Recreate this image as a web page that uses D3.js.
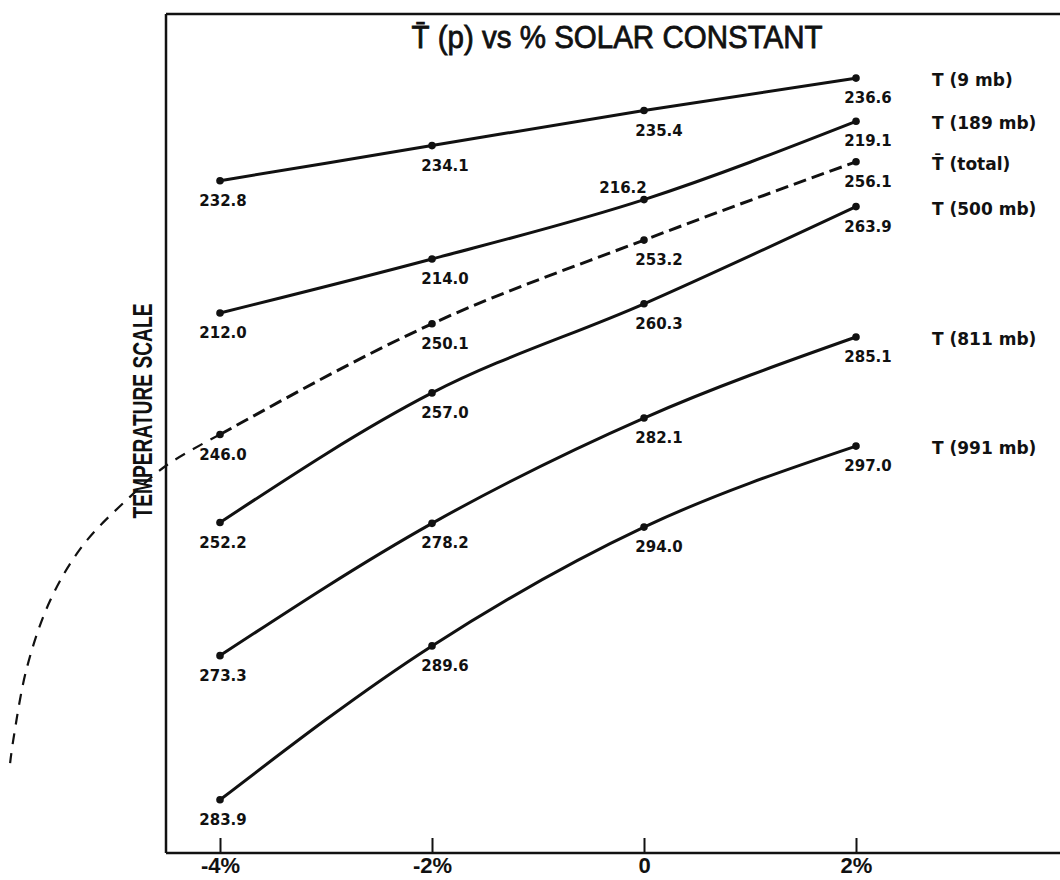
<!DOCTYPE html>
<html>
<head>
<meta charset="utf-8">
<script src="https://cdn.jsdelivr.net/npm/d3@7/dist/d3.min.js"></script>
<style>
  html, body { margin: 0; padding: 0; background: #fff; }
  svg { display: block; }
</style>
</head>
<body>
<svg id="chart" width="1060" height="880"></svg>
<script>
// ---------------- data ----------------
const solarPct = [-4, -2, 0, 2];
const tickLabels = ["-4%", "-2%", "0", "2%"];
const seriesNames = ["T (9 mb)", "T (189 mb)", "T\u0304 (total)", "T (500 mb)", "T (811 mb)", "T (991 mb)"];
const t9    = [232.8, 234.1, 235.4, 236.6];
const t189  = [212.0, 214.0, 216.2, 219.1];
const tTot  = [246.0, 250.1, 253.2, 256.1];
const t500  = [252.2, 257.0, 260.3, 263.9];
const t811  = [273.3, 278.2, 282.1, 285.1];
const t991  = [283.9, 289.6, 294.0, 297.0];
// temperature at the bottom of the (relative) temperature scale for each curve
const scaleOrigin = [207.9, 192.0, 230.5, 239.96, 265.99, 281.93];
// hand-drawn extrapolation of the total curve
const extPct  = [-4.0, -4.50, -4.85, -5.29, -5.60, -5.82, -5.95, -5.98];
const extTemp = [246.0, 244.87, 243.69, 241.91, 239.87, 237.39, 234.69, 233.83];

const titleText = "T\u0304 (p) vs % SOLAR CONSTANT";
const yTitle = "TEMPERATURE SCALE";

(function () {
// ---------------- layout ----------------
const svg = d3.select("#chart");
const pLeft = 166, pRight = 1060, pTop = 14, pBottom = 853;

const x = d3.scaleLinear().domain([-4, 2]).range([220, 856]);
const y = d3.scaleLinear().domain([0, 31]).range([pBottom, pBottom - 27 * 31]);

const seriesVals = [t9, t189, tTot, t500, t811, t991];
const series = seriesVals.map((vals, i) => ({
  name: seriesNames[i],
  origin: scaleOrigin[i],
  dashed: i === 2,
  pts: vals.map((v, j) => ({ p: solarPct[j], v: v, j: j }))
}));

const ink = "#111";

// frame
svg.append("line").attr("x1", pLeft).attr("x2", pRight).attr("y1", pTop).attr("y2", pTop)
  .attr("stroke", ink).attr("stroke-width", 2.5);
svg.append("line").attr("x1", pLeft).attr("x2", pLeft).attr("y1", pTop).attr("y2", pBottom)
  .attr("stroke", ink).attr("stroke-width", 2.5);

// x axis
const xAxis = d3.axisBottom(x)
  .tickValues(solarPct)
  .tickSizeInner(-15)
  .tickSizeOuter(0)
  .tickFormat((d, i) => tickLabels[i]);
const gx = svg.append("g").attr("transform", `translate(0,${pBottom})`).call(xAxis);
gx.select(".domain").remove();
gx.selectAll(".tick line").attr("stroke", ink).attr("stroke-width", 2);
gx.selectAll(".tick text")
  .attr("y", 20)
  .attr("dy", 0)
  .attr("fill", ink)
  .style("font-family", "'Liberation Sans', Arial, sans-serif")
  .style("font-weight", "bold")
  .style("font-size", "22px");
svg.append("line").attr("x1", pLeft).attr("x2", pRight).attr("y1", pBottom).attr("y2", pBottom)
  .attr("stroke", ink).attr("stroke-width", 2.5);

// title
svg.append("text")
  .attr("x", 617).attr("y", 48)
  .attr("text-anchor", "middle")
  .attr("textLength", 411).attr("lengthAdjust", "spacingAndGlyphs")
  .attr("fill", ink).attr("stroke", ink).attr("stroke-width", 0.8)
  .style("font-family", "'Liberation Sans', Arial, sans-serif")
  .style("font-size", "32px")
  .text(titleText);

// y title
svg.append("text")
  .attr("transform", "translate(152,411) rotate(-90)")
  .attr("text-anchor", "middle")
  .attr("textLength", 215).attr("lengthAdjust", "spacingAndGlyphs")
  .attr("fill", ink)
  .style("font-family", "'Liberation Sans', Arial, sans-serif")
  .style("font-weight", "bold")
  .style("font-size", "27px")
  .text(yTitle);

// lines
const line = d3.line().curve(d3.curveMonotoneX);
series.forEach(s => {
  svg.append("path")
    .attr("d", line(s.pts.map(d => [x(d.p), y(d.v - s.origin)])))
    .attr("fill", "none")
    .attr("stroke", ink)
    .attr("stroke-width", 3)
    .attr("stroke-dasharray", s.dashed ? "13,6" : null);
});

// extrapolated dashed curve of the total
const extLine = d3.line().curve(d3.curveCatmullRom.alpha(0.5));
svg.append("path")
  .attr("d", extLine(extPct.map((p, i) => [x(p), y(extTemp[i] - scaleOrigin[2])])))
  .attr("fill", "none")
  .attr("stroke", ink)
  .attr("stroke-width", 2.2)
  .attr("stroke-dasharray", "11,9");

// points
series.forEach(s => {
  svg.selectAll(null).data(s.pts).enter().append("circle")
    .attr("cx", d => x(d.p)).attr("cy", d => y(d.v - s.origin))
    .attr("r", 3.8).attr("fill", ink);
});

// value labels
const colDx = [3, 13, 15, 12];
series.forEach((s, si) => {
  svg.selectAll(null).data(s.pts).enter().append("text")
    .attr("x", d => x(d.p) + ((si === 1 && d.j === 2) ? -21 : colDx[d.j]))
    .attr("y", d => y(d.v - s.origin) + ((si === 1 && d.j === 2) ? -7 : 25))
    .attr("text-anchor", "middle")
    .attr("fill", ink)
    .style("font-family", "'DejaVu Sans', sans-serif")
    .style("font-weight", "bold")
    .style("font-size", "15px")
    .text(d => d.v.toFixed(1));
});

// series labels at right
series.forEach(s => {
  const last = s.pts[s.pts.length - 1];
  svg.append("text")
    .attr("x", 932)
    .attr("y", y(last.v - s.origin) + 8)
    .attr("fill", ink)
    .style("font-family", "'DejaVu Sans', sans-serif")
    .style("font-weight", "bold")
    .style("font-size", "17px")
    .text(s.name);
});
})();
</script>
</body>
</html>
